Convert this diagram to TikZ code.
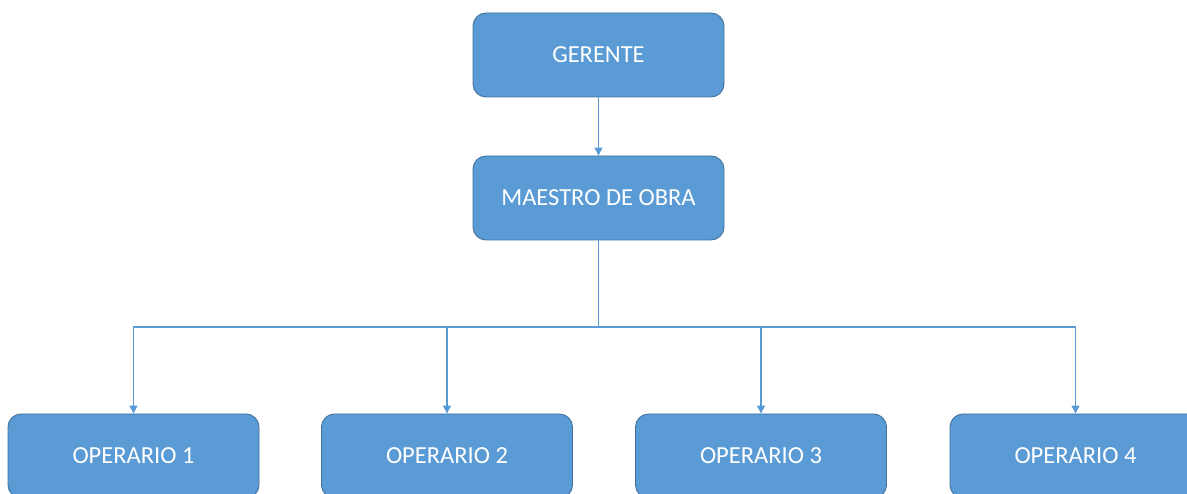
\documentclass[tikz,border=0pt]{standalone}
\usepackage{fontspec}
\setmainfont{Carlito}
\usetikzlibrary{arrows.meta}
\definecolor{boxfill}{HTML}{5B9BD5}
\definecolor{boxline}{HTML}{41719C}
\definecolor{conncol}{HTML}{5B9BD5}
\tikzset{
  orgbox/.style={rectangle, rounded corners=13pt, fill=boxfill, draw=boxline, line width=0.9pt,
    minimum width=251pt, minimum height=84pt, inner sep=0pt, text=white,
    font=\fontsize{24.5pt}{28pt}\selectfont},
  conn/.style={draw=conncol, line width=1.3pt, -{Triangle[width=8pt,length=8pt]}}
}
\begin{document}
\begin{tikzpicture}[x=1pt,y=-1pt]
\useasboundingbox (0,0) rectangle (1187,494);
\node[orgbox] (ger) at (598.5,55) {GERENTE};
\node[orgbox] (mae) at (598.5,198) {MAESTRO DE OBRA};
\node[orgbox] (op1) at (133.5,456) {OPERARIO 1};
\node[orgbox] (op2) at (447,456) {OPERARIO 2};
\node[orgbox] (op3) at (761,456) {OPERARIO 3};
\node[orgbox] (op4) at (1075.5,456) {OPERARIO 4};
\coordinate (bus) at (598.5,327);
\draw[conn] (ger) -- (mae);
\draw[conn] (mae) -- (bus) -| (op1);
\draw[conn] (mae) -- (bus) -| (op2);
\draw[conn] (mae) -- (bus) -| (op3);
\draw[conn] (mae) -- (bus) -| (op4);
\end{tikzpicture}
\end{document}
